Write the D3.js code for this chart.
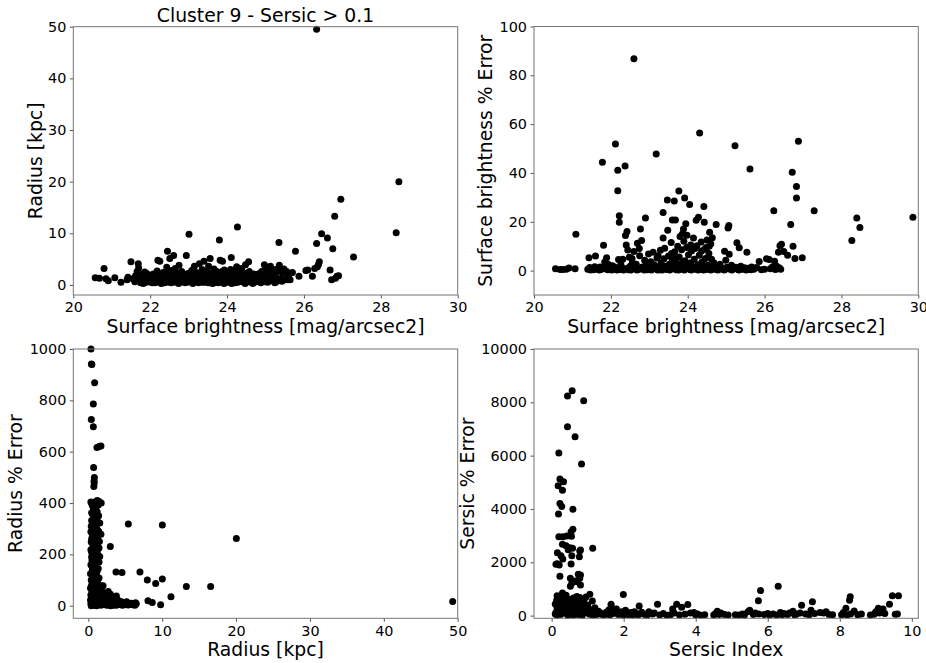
<!DOCTYPE html>
<html>
<head>
<meta charset="UTF-8">
<title>Cluster 9 - Sersic &gt; 0.1</title>
<script src="https://cdnjs.cloudflare.com/ajax/libs/d3/7.8.5/d3.min.js"></script>
<style>
  body { margin: 0; background: #fff; }
  svg text { font-family: "DejaVu Sans", sans-serif; fill: #000; }
</style>
</head>
<body>
<script>
// surface brightness vs radius [kpc]
var sbRadius = [
  [20.57,1.4],[20.68,1.3],[20.80,3.2],[20.85,1.2],[20.91,0.8],[21.08,1.4],[21.24,0.5],[21.40,1.0],[21.42,1.5],[21.50,4.5],[21.55,1.2],
  [21.60,0.6],[21.62,1.8],[21.66,2.6],[21.69,4.1],[21.70,3.3],[21.72,1.1],[21.75,0.4],[21.78,2.0],[21.80,1.4],[21.83,0.7],[21.86,2.5],[21.88,1.6],[21.90,0.5],[21.93,1.0],[21.96,1.9],[21.98,0.6],
  [22.02,1.3],[22.05,0.4],[22.08,2.1],[22.10,0.9],[22.13,1.6],[22.16,0.5],[22.18,2.7],[22.20,4.8],[22.22,1.2],[22.25,4.6],[22.27,0.6],[22.30,1.8],[22.33,0.9],[22.36,1.4],[22.38,0.4],[22.41,2.3],[22.43,3.4],[22.45,6.5],[22.47,1.0],[22.50,0.5],[22.51,5.1],
  [22.53,1.7],[22.56,2.8],[22.58,0.8],[22.61,5.7],[22.62,1.3],[22.65,3.2],[22.67,0.5],[22.70,2.0],[22.72,1.1],[22.75,3.8],[22.77,0.6],[22.80,1.6],[22.82,2.6],[22.85,0.9],[22.88,1.9],[22.90,0.4],[22.94,5.7],[22.95,1.2],[22.98,2.2],[23.01,9.8],
  [23.02,0.7],[23.05,1.5],[23.08,2.8],[23.10,0.5],[23.12,1.9],[23.15,3.6],[23.17,1.0],[23.20,2.4],[23.22,0.6],[23.25,1.4],[23.28,4.1],[23.30,2.0],[23.32,0.8],[23.35,3.0],[23.37,1.2],[23.40,4.6],[23.42,0.5],[23.45,1.8],[23.48,2.7],[23.50,0.9],
  [23.52,3.6],[23.55,1.5],[23.56,5.1],[23.58,0.6],[23.61,2.2],[23.63,1.1],[23.66,3.1],[23.68,0.4],[23.70,1.7],[23.73,2.6],[23.75,0.8],[23.78,1.4],[23.80,8.7],[23.82,4.8],[23.84,2.1],[23.86,0.5],[23.88,4.6],[23.90,1.2],[23.93,2.9],[23.96,0.7],[23.98,1.8],
  [24.01,0.5],[24.04,2.4],[24.06,1.3],[24.09,3.0],[24.11,5.3],[24.13,0.8],[24.16,1.9],[24.18,2.7],[24.21,0.4],[24.23,1.5],[24.25,3.5],[24.27,11.2],[24.29,2.2],[24.32,0.9],[24.35,1.6],[24.38,3.2],[24.40,0.6],[24.43,2.0],[24.45,1.1],[24.48,3.9],[24.50,0.5],
  [24.53,1.8],[24.56,4.5],[24.58,2.6],[24.60,1.0],[24.63,0.5],[24.66,1.6],[24.69,2.1],[24.72,0.8],[24.75,1.3],[24.78,2.0],[24.82,0.7],[24.86,1.5],[24.90,2.6],[24.93,1.1],[24.97,3.9],[24.99,0.6],
  [25.02,1.6],[25.05,2.4],[25.08,3.3],[25.10,1.0],[25.13,3.6],[25.16,2.1],[25.20,0.8],[25.23,1.5],[25.26,3.0],[25.28,0.6],[25.32,2.6],[25.35,8.2],[25.36,3.8],[25.40,1.2],[25.45,2.2],[25.50,1.0],
  [25.55,2.6],[25.60,1.7],[25.64,1.0],[25.70,2.4],[25.78,6.5],[25.87,1.7],[26.05,2.8],[26.10,2.9],[26.22,1.7],[26.28,3.2],[26.33,8.0],[26.35,3.5],[26.38,4.0],[26.40,4.5],[26.46,9.9],[26.61,9.1],
  [26.68,2.9],[26.72,1.0],[26.75,7.0],[26.80,13.3],[26.82,1.3],[26.86,1.7],[26.90,1.8],[26.96,16.6],[27.29,5.4],[26.33,49.5],[28.40,10.1],[28.47,20.0],
  [21.74,1.5],[21.82,0.3],[21.91,2.2],[22.00,0.8],[22.06,1.7],[22.12,0.4],[22.19,1.0],[22.24,2.0],[22.29,0.3],[22.34,2.4],[22.39,1.3],[22.44,0.7],[22.49,2.5],[22.55,0.4],[22.60,2.1],[22.64,0.9],
  [22.69,1.4],[22.74,0.3],[22.79,2.4],[22.84,1.3],[22.89,0.7],[22.93,1.6],[22.97,0.5],[23.03,2.1],[23.07,0.9],[23.11,0.3],[23.16,2.2],[23.21,1.2],[23.26,0.4],[23.31,1.7],[23.36,0.5],[23.41,2.3],
  [23.46,1.0],[23.51,0.4],[23.57,1.9],[23.62,0.3],[23.67,2.0],[23.72,1.1],[23.77,0.4],[23.83,1.6],[23.87,2.6],[23.92,0.3],[23.97,1.3],[24.03,0.9],[24.08,2.0],[24.12,0.3],[24.17,1.1],[24.22,2.4],
  [24.28,0.5],[24.33,1.9],[24.37,0.8],[24.42,1.4],[24.47,0.3],[24.52,2.3],[24.57,0.7],[24.62,1.6],[24.67,0.3],[24.71,1.9],[24.77,0.6],[24.84,2.2],[24.88,0.4],[24.95,1.8],[25.00,3.0],[25.06,0.5],
  [25.12,1.9],[25.18,2.6],[25.24,0.4],[25.30,1.3],[25.38,2.9],[25.43,0.7],[25.48,3.1],[25.58,1.0]
];

// surface brightness vs surface brightness % error
var sbError = [
  [20.56,0.8],[20.68,0.4],[20.75,0.4],[20.84,0.6],[20.91,1.1],[21.07,0.8],[21.09,14.9],
  [21.40,0.5],[21.43,5.3],[21.45,1.3],[21.50,0.8],[21.55,0.3],[21.60,6.0],[21.63,1.0],[21.68,0.4],[21.72,1.5],[21.76,0.5],[21.78,44.4],[21.81,10.4],[21.84,3.5],[21.87,0.8],[21.89,5.3],[21.92,0.3],[21.96,1.2],
  [22.00,0.5],[22.04,2.0],[22.08,0.6],[22.12,51.9],[22.14,1.0],[22.18,41.1],[22.18,32.7],[22.20,4.5],[22.22,22.5],[22.22,19.8],[22.25,0.4],[22.28,1.4],[22.31,4.6],[22.34,0.6],[22.37,42.9],[22.38,14.4],[22.40,10.5],[22.42,16.0],[22.44,8.4],[22.46,0.3],[22.48,5.5],[22.50,1.8],
  [22.53,0.5],[22.56,3.3],[22.60,86.8],[22.60,7.8],[22.63,0.8],[22.66,2.6],[22.69,11.2],[22.72,0.4],[22.75,6.1],[22.77,17.0],[22.80,12.3],[22.82,1.5],[22.85,0.5],[22.88,4.2],[22.90,21.5],[22.92,2.2],[22.95,0.3],[22.98,6.8],
  [23.01,1.1],[23.04,3.6],[23.07,0.5],[23.10,7.5],[23.13,2.4],[23.16,0.8],[23.18,47.8],[23.20,5.2],[23.23,1.6],[23.26,0.3],[23.29,8.3],[23.31,3.1],[23.34,0.7],[23.36,23.8],[23.36,13.4],[23.38,4.8],[23.40,9.2],[23.42,1.8],[23.45,0.4],[23.47,28.9],[23.48,16.5],[23.50,6.0],
  [23.52,2.6],[23.55,0.6],[23.57,11.5],[23.60,20.7],[23.60,4.3],[23.63,1.2],[23.65,28.5],[23.66,7.7],[23.68,20.7],[23.70,0.3],[23.72,3.0],[23.74,10.0],[23.77,32.6],[23.78,5.6],[23.80,14.0],[23.82,1.5],[23.84,8.5],[23.86,15.0],[23.88,0.5],[23.90,12.0],[23.92,29.7],[23.93,4.0],[23.95,19.2],[23.97,9.5],[23.99,1.0],
  [24.02,6.5],[24.05,27.1],[24.06,0.4],[24.08,3.2],[24.10,8.0],[24.13,1.6],[24.15,13.4],[24.17,4.6],[24.20,0.5],[24.22,20.6],[24.24,10.2],[24.26,2.4],[24.28,21.9],[24.30,6.3],[24.31,56.4],[24.33,0.7],[24.35,11.7],[24.37,3.5],[24.39,1.3],[24.42,26.3],[24.43,19.8],[24.44,8.8],[24.46,5.0],[24.48,0.4],
  [24.50,12.5],[24.52,2.2],[24.55,7.0],[24.57,15.7],[24.59,0.8],[24.62,4.6],[24.65,1.5],[24.68,3.2],[24.71,0.5],[24.74,18.9],[24.77,1.8],[24.80,0.4],[24.84,2.6],[24.88,1.1],[24.92,0.5],[24.96,7.9],[24.99,4.2],
  [25.02,1.4],[25.05,17.4],[25.07,18.5],[25.08,6.7],[25.11,0.5],[25.14,2.2],[25.18,0.8],[25.23,51.1],[25.25,1.4],[25.28,11.4],[25.30,0.5],[25.34,9.4],[25.38,1.8],[25.43,0.6],[25.48,1.2],[25.54,7.5],[25.58,1.0],[25.62,41.6],[25.66,1.5],[25.72,0.6],[25.80,1.2],[25.86,3.7],
  [26.00,0.6],[26.05,4.8],[26.12,4.5],[26.20,1.5],[26.24,24.5],[26.26,3.8],[26.30,2.0],[26.33,0.8],[26.36,7.5],[26.38,1.2],[26.40,10.2],[26.44,10.8],[26.50,7.8],[26.60,6.3],[26.68,18.9],[26.72,40.3],[26.74,10.0],[26.79,5.0],[26.83,34.5],[26.83,29.7],[26.88,53.0],[26.98,5.3],
  [27.29,24.5],[28.27,12.3],[28.40,21.5],[28.48,17.7],[29.86,21.9],
  [21.47,0.2],[21.58,1.6],[21.70,0.2],[21.80,1.0],[21.94,2.5],[22.02,0.2],[22.10,1.5],[22.16,0.2],[22.26,2.5],[22.33,0.2],[22.43,1.0],[22.52,0.2],[22.58,1.5],[22.68,0.2],[22.78,1.0],[22.87,0.2],
  [22.97,1.6],[23.05,0.2],[23.14,1.2],[23.22,0.2],[23.28,2.0],[23.33,0.2],[23.44,1.3],[23.53,0.2],[23.58,2.0],[23.69,1.2],[23.76,0.2],[23.83,2.6],[23.91,0.2],[24.00,2.0],[24.09,0.2],[24.18,1.2],
  [24.27,0.2],[24.34,2.2],[24.41,0.2],[24.51,0.8],[24.60,0.2],[24.70,1.5],[24.78,0.2],[24.86,1.0],[24.95,0.2],[25.04,0.8],[25.15,0.2],[25.21,1.2],[25.33,0.2],[25.40,0.8],[25.52,0.2],[25.64,0.3],
  [25.76,1.2],[25.92,0.3],[26.15,0.8],[26.28,0.4],[26.42,0.6],
  [23.58,7.0],[23.68,5.0],[23.85,3.0],[24.08,10.5],[24.19,9.0],[24.36,8.0],[24.60,11.0],[24.48,9.5],[23.23,6.0],[22.74,9.0],[22.55,5.0],[24.64,13.5],[24.56,10.0],[23.98,14.5],[23.89,17.0]
];

// radius [kpc] vs radius % error
var radiusError = [
  [0.36,1000],[0.42,942],[0.48,940],[0.86,869],[0.68,786],[0.41,725],[0.68,697],[1.17,616],[1.45,620],[1.71,622],[0.72,538],[0.82,499],[0.78,486],[0.75,464],[0.80,478],
  [0.35,404],[0.95,404],[1.45,406],[1.75,400],[1.20,410],
  [0.55,390],[1.05,385],[0.80,372],[1.20,365],[0.60,355],[1.00,345],[0.45,332],[1.30,325],[1.55,322],[0.85,318],[0.40,310],[1.15,300],[0.65,295],[0.35,288],[1.00,282],[1.71,278],[0.55,270],[1.25,262],[0.80,255],[0.40,248],
  [1.10,240],[0.70,232],[1.45,225],[0.35,218],[0.95,210],[0.60,202],[1.30,198],[1.55,192],[0.45,190],[0.85,182],[1.20,175],[0.65,168],[0.35,160],[1.00,152],[1.35,145],[0.55,140],[0.80,132],[0.30,125],[1.10,118],[0.60,112],
  [1.45,108],[0.40,100],[0.90,95],[1.25,90],[0.50,85],[1.60,80],[2.00,78],[0.75,72],[0.30,68],[1.10,62],[1.80,58],[0.50,55],[2.70,55],[0.95,50],[1.40,45],[2.40,48],[0.35,42],[3.00,45],[0.70,38],[1.20,35],
  [1.60,35],[2.10,38],[3.80,38],[0.45,30],[1.00,28],[2.60,30],[3.30,30],[0.30,22],[0.80,20],[1.50,22],[2.00,22],[2.90,24],[4.00,22],[0.55,15],[1.20,14],[1.80,16],[2.40,15],[3.40,16],[4.50,15],
  [0.35,8],[0.95,8],[1.40,8],[2.20,8],[2.80,8],[3.60,8],[4.20,10],[5.00,10],[5.80,10],[6.40,12],[0.40,0],[0.80,2],[1.10,0],[1.70,2],[2.50,2],[3.00,0],[3.80,2],[4.60,2],[5.40,3],[6.30,2],[6.50,8],
  [2.98,231],[5.42,318],[10.02,314],[20.04,262],[3.75,131],[4.56,129],[6.99,131],[7.99,100],[9.12,87],[10.02,104],[13.27,75],[16.56,75],[11.19,35],[8.08,19],[8.66,13],[9.79,4],[49.32,16],
  [0.50,395],[1.35,392],[0.70,380],[1.00,375],[0.45,362],[1.40,350],[0.80,338],[1.15,330],[0.55,320],[1.00,308],[0.75,285],[1.40,290],[1.05,268],[0.45,260],[0.95,248],[1.50,250],
  [0.60,238],[1.25,228],[0.85,220],[0.45,208],[1.20,212],[0.75,195],[1.00,186],[0.50,176],[1.45,170],[0.85,160],[0.55,150],[1.20,135],[0.95,125],[0.55,120],[0.85,108],[1.25,102],
  [0.65,92],[1.00,80],[1.35,70],[0.40,75],[0.85,58],[1.30,52],[0.60,45],[1.85,45],[2.30,30],[1.70,28],[3.00,15],[3.70,20],[2.60,18],[4.10,5],[4.90,4],[5.50,8],
  [2.00,5],[1.25,22],[0.60,30],[3.40,2],[2.30,12],[5.20,15],[6.00,4]
];

// sersic index vs sersic % error
var sersicError = [
  [0.57,8438],[0.44,8238],[0.89,8063],[0.44,7088],[0.65,6713],[0.20,6100],[0.83,5688],[0.23,5125],[0.33,5025],[0.18,4875],[0.30,4700],[0.23,4210],[0.28,4090],[0.19,3810],[0.59,3990],
  [0.59,3240],[0.54,3150],[0.55,2975],[0.20,2960],[0.31,2960],[0.42,2985],[0.30,2675],[0.40,2625],[0.51,2550],[0.58,2525],[0.46,2475],[1.14,2525],[0.80,2460],[0.16,2360],[0.26,2250],[0.31,2125],
  [0.12,1925],[0.21,1900],[0.15,1950],[0.56,2250],[0.54,1938],[0.77,2213],[0.78,2425],[0.23,1475],[0.74,1550],[0.80,1525],[0.52,1400],[0.56,1213],[0.78,1400],[0.80,1150],[0.71,1275],[0.52,1100],[0.65,1300],
  [0.15,750],[0.20,680],[0.25,620],[0.14,580],[0.30,700],[0.50,600],[0.70,720],[0.78,680],[1.06,800],[1.13,550],[0.90,600],[0.35,500],[0.60,480],[0.85,450],[0.20,420],[0.45,380],[1.00,400],[0.70,350],
  [0.15,300],[0.30,280],[0.55,300],[0.95,280],[1.20,300],[0.40,220],[0.80,200],[1.10,220],[0.20,180],[0.65,150],[1.30,160],[0.12,120],[0.35,100],[0.90,110],[0.50,60],[1.05,50],[0.25,40],[0.75,30],
  [1.25,40],[0.15,10],[0.45,5],[0.60,15],[0.85,5],[1.15,10],[1.40,40],[1.50,120],
  [1.65,425],[1.65,338],[1.58,200],[1.70,80],[1.80,250],[1.85,40],[1.99,790],[1.95,150],[2.05,200],[2.10,60],[2.20,120],[2.25,20],[2.43,360],[2.35,80],[2.50,130],[2.60,40],[2.70,150],[2.80,60],
  [2.94,425],[3.00,20],[3.10,80],[3.30,30],[3.36,250],[3.47,430],[3.55,20],[3.61,310],[3.78,420],[3.85,100],[3.95,120],[4.05,60],[4.15,10],[4.55,80],[4.60,160],[4.70,100],[4.80,40],[4.90,20],
  [5.20,20],[5.30,60],[5.45,150],[5.50,200],[5.60,40],[5.74,560],[5.80,938],[5.75,60],[5.90,40],[6.05,20],[6.15,60],[6.29,1100],[6.35,120],[6.40,30],[6.45,80],[6.60,100],[6.70,160],[6.80,60],
  [6.94,390],[7.05,60],[7.15,30],[7.24,525],[7.20,200],[7.45,120],[7.55,100],[7.62,150],[7.80,30],[8.05,30],[8.17,275],[8.29,710],[8.27,575],[8.30,60],[8.40,170],[8.50,30],
  [8.95,50],[9.07,275],[9.10,100],[9.20,250],[9.38,425],[9.46,750],[9.63,750],[9.54,50],
  [0.10,60],[0.22,200],[0.38,160],[0.48,260],[0.62,220],[0.72,100],[0.88,260],[0.98,160],[1.08,100],[1.18,180],[1.35,100],[1.45,20],[1.55,60],[1.62,20],[1.75,150],[1.90,60],
  [2.00,10],[2.15,30],[2.30,150],[2.40,20],[2.55,60],[2.65,10],[2.85,100],[3.20,10],[3.40,100],[3.70,50],[4.00,20],[4.25,30],[4.50,20],[4.65,40],[5.10,30],[5.35,10],
  [5.65,100],[6.00,80],[6.25,20],[6.55,40],[6.75,20],[6.90,100],[7.30,80],[7.70,40],[8.10,120],[8.20,20],[8.60,60],[8.85,20],[9.00,150],[9.25,80],[9.60,60],
  [0.30,850],[0.40,760],[0.60,660],[0.25,520],[0.70,560],[0.95,700],[0.40,640],[0.10,440]
];

var sbTicks = [20, 22, 24, 26, 28, 30];
var radiusTicks = [0, 10, 20, 30, 40, 50];
var sbErrTicks = [0, 20, 40, 60, 80, 100];
var radiusErrTicks = [0, 200, 400, 600, 800, 1000];
var sersicTicks = [0, 2, 4, 6, 8, 10];
var sersicErrTicks = [0, 2000, 4000, 6000, 8000, 10000];

var svg = d3.select("body").append("svg")
  .attr("width", 926)
  .attr("height", 663);

function panel(o) {
  var x = d3.scaleLinear().domain(o.xDomain).range([o.left, o.right]);
  var y = d3.scaleLinear().domain(o.yDomain).range([o.bottom, o.top]);

  svg.append("g")
    .selectAll("circle")
    .data(o.data)
    .enter()
    .append("circle")
    .attr("cx", function (d) { return x(d[0]); })
    .attr("cy", function (d) { return y(d[1]); })
    .attr("r", 3.5)
    .style("fill", "#000");

  var xAxis = svg.append("g")
    .attr("transform", "translate(0," + o.bottom + ")")
    .call(d3.axisBottom(x).tickValues(o.xTicks).tickFormat(d3.format("d"))
      .tickSize(3.5).tickPadding(3.5).tickSizeOuter(0));
  var yAxis = svg.append("g")
    .attr("transform", "translate(" + o.left + ",0)")
    .call(d3.axisLeft(y).tickValues(o.yTicks).tickFormat(d3.format("d"))
      .tickSize(3.5).tickPadding(3.5).tickSizeOuter(0));

  [xAxis, yAxis].forEach(function (g) {
    g.select(".domain").remove();
    g.selectAll(".tick line").attr("stroke", "#555");
    g.selectAll(".tick text").attr("font-size", "14.4px").attr("font-family", "DejaVu Sans");
  });

  svg.append("rect")
    .attr("x", o.left)
    .attr("y", o.top)
    .attr("width", o.right - o.left)
    .attr("height", o.bottom - o.top)
    .attr("fill", "none")
    .attr("stroke", "#777")
    .attr("stroke-width", 1);

  svg.append("text")
    .attr("x", (o.left + o.right) / 2)
    .attr("y", o.xLabelY)
    .attr("text-anchor", "middle")
    .attr("font-size", "18.8px")
    .text(o.xLabel);

  svg.append("text")
    .attr("transform", "translate(" + o.yLabelX + "," + (o.top + o.bottom) / 2 + ") rotate(-90)")
    .attr("text-anchor", "middle")
    .attr("font-size", "18.8px")
    .text(o.yLabel);

  if (o.title) {
    svg.append("text")
      .attr("x", (o.left + o.right) / 2)
      .attr("y", o.top - 5)
      .attr("text-anchor", "middle")
      .attr("font-size", "18.8px")
      .text(o.title);
  }
}

panel({
  data: sbRadius, left: 73.3, right: 457.7, top: 26.7, bottom: 295,
  xDomain: [20, 30], yDomain: [-1.95, 50], xTicks: sbTicks, yTicks: radiusTicks,
  xLabel: "Surface brightness [mag/arcsec2]", yLabel: "Radius [kpc]",
  xLabelY: 333, yLabelX: 42, title: "Cluster 9 - Sersic > 0.1"
});

panel({
  data: sbError, left: 534, right: 918.3, top: 26.5, bottom: 295,
  xDomain: [20, 30], yDomain: [-10, 100], xTicks: sbTicks, yTicks: sbErrTicks,
  xLabel: "Surface brightness [mag/arcsec2]", yLabel: "Surface brightness % Error",
  xLabelY: 333, yLabelX: 491.5
});

panel({
  data: radiusError, left: 73.3, right: 457.7, top: 349, bottom: 618.3,
  xDomain: [-2.03, 50], yDomain: [-49, 1000], xTicks: radiusTicks, yTicks: radiusErrTicks,
  xLabel: "Radius [kpc]", yLabel: "Radius % Error",
  xLabelY: 656, yLabelX: 22
});

panel({
  data: sersicError, left: 534, right: 918.3, top: 349, bottom: 618.3,
  xDomain: [-0.49, 10.18], yDomain: [-100, 10000], xTicks: sersicTicks, yTicks: sersicErrTicks,
  xLabel: "Sersic Index", yLabel: "Sersic % Error",
  xLabelY: 656, yLabelX: 473.7
});
</script>
</body>
</html>
